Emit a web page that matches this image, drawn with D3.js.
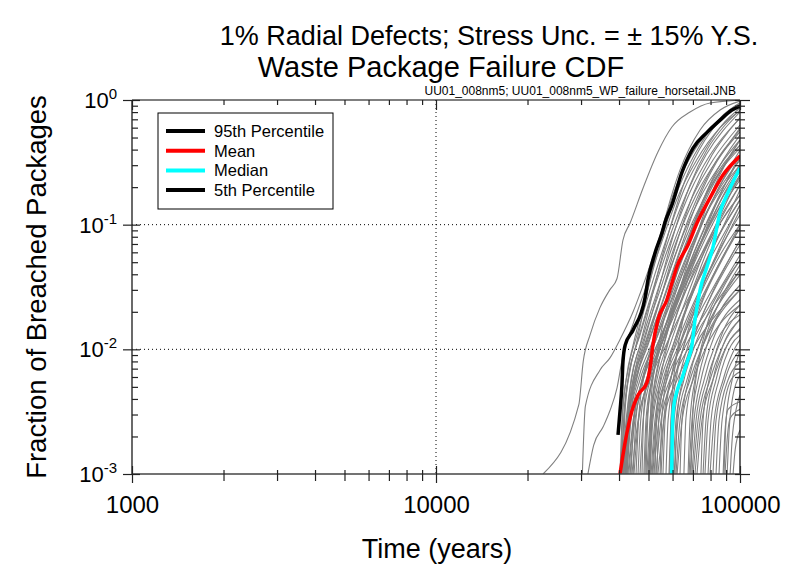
<!DOCTYPE html>
<html>
<head>
<meta charset="UTF-8">
<title>Waste Package Failure CDF</title>
<script src="https://cdn.jsdelivr.net/npm/d3@7"></script>
<style>
  body { margin: 0; background: #fff; }
  svg { font-family: Arial, "Liberation Sans", sans-serif; }
</style>
</head>
<body>
<svg id="chart" width="798" height="567"></svg>
<script>
// time (years) vs fraction of breached packages
const xMajorTicks = [1000, 10000, 100000];
const yMajorTicks = [1e-3, 1e-2, 1e-1, 1];
const yTickExponents = ['-3', '-2', '-1', '0'];
const legendLabels = ['95th Percentile', 'Mean', 'Median', '5th Percentile'];

const pct95 = [[39700,0.00206],[40300,0.0032],[40900,0.0052],[41200,0.0079],[41900,0.0108],[44500,0.0143],[48700,0.0258],[49800,0.036],[52500,0.059],[55400,0.086],[56700,0.105],[59700,0.144],[64500,0.265],[70000,0.41],[77900,0.55],[86000,0.69],[94100,0.83],[100000,0.895]];
const meanCurve = [[40300,0.001],[41900,0.0018],[44100,0.0032],[46200,0.0043],[49400,0.0054],[50600,0.0071],[51700,0.0108],[53700,0.0172],[57500,0.025],[59700,0.034],[62000,0.046],[67500,0.069],[72200,0.103],[79700,0.164],[87900,0.25],[100000,0.355]];
const median = [[59600,0.001],[59800,0.0017],[60300,0.0032],[62000,0.0046],[64500,0.0059],[67000,0.0079],[69500,0.0108],[71100,0.0172],[73900,0.030],[77900,0.046],[81500,0.066],[84600,0.105],[86000,0.126],[90600,0.173],[94800,0.22],[100000,0.285]];
const pct5 = []; // stays below 1e-3 over the whole period

// individual realizations (horsetail)
const realizations = [
  [[22500,.001],[29500,.0036],[30500,.008],[32100,.013],[34600,.0215],[37300,.03],[39400,.037],[41200,.075],[43500,.103],[48000,.197],[53700,.383],[59700,.607],[68500,.8],[79700,.946],[100000,.995]],
  [[30300,.001],[31000,.0035],[34600,.0068],[37300,.0085],[40300,.012],[44500,.02],[48700,.036],[54700,.083],[61000,.19],[71000,.4],[86000,.69],[100000,.91]],
  [[31600,.001],[33000,.0017],[35500,.0024],[37300,.0032],[39400,.0049],[41200,.009],[44500,.016],[48700,.03],[55000,.07],[62000,.16],[72000,.33],[86000,.6],[100000,.82]],
  [[40600,.001],[41500,.0027],[42800,.0057],[45500,.0108],[49800,.030],[55400,.091],[63500,.275],[73900,.575],[86000,.831],[100000,.98]],
  [[40900,.001],[42200,.0027],[43800,.0057],[46900,.0108],[51400,.027],[58000,.083],[66400,.237],[76700,.478],[87300,.717],[100000,.93]],
  [[41200,.001],[42500,.0027],[44500,.0057],[48000,.0108],[53300,.027],[59700,.075],[68500,.208],[78500,.412],[89300,.63],[100000,.83]],
  [[41500,.001],[42800,.0027],[44800,.0057],[49100,.0108],[54600,.025],[61600,.069],[70600,.183],[80900,.362],[91400,.554],[100000,.717]],
  [[41900,.001],[43100,.0027],[45500,.0057],[49800,.0108],[55800,.025],[63500,.063],[72800,.158],[83400,.312],[92800,.46],[100000,.596]],
  [[42200,.001],[43500,.0027],[46200,.0057],[51000,.0108],[57500,.025],[65400,.057],[75000,.136],[86000,.265],[94200,.383],[100000,.478]],
  [[42500,.001],[43800,.0027],[46900,.0057],[52100,.0108],[58800,.0227],[67500,.052],[77300,.12],[88000,.228],[100000,.362]],
  [[42800,.001],[44500,.0027],[48000,.0057],[53300,.0108],[60700,.0227],[69500,.05],[79700,.105],[90000,.19],[100000,.285]],
  [[43500,.001],[45100,.0027],[49100,.0057],[55000,.0108],[63000,.0227],[72800,.0475],[83400,.094],[100000,.208]],
  [[44100,.001],[46200,.0027],[50600,.0057],[57100,.0108],[65900,.0227],[76700,.045],[100000,.144]],
  [[40300,.001],[40900,.0027],[42200,.0057],[44500,.0108],[48700,.025],[54600,.069],[62500,.19],[73900,.435],[86000,.717],[100000,.95]],
  [[41500,.001],[42500,.00225],[44100,.0043],[47200,.0082],[52500,.019],[59700,.0475],[69500,.131],[80900,.285],[100000,.575]],
  [[43100,.001],[44500,.0025],[47200,.0052],[52500,.0099],[60200,.0207],[70100,.0433],[82200,.087],[100000,.173]],
  [[40600,.001],[41200,.0033],[42800,.0068],[45800,.013],[50600,.030],[57100,.075],[65400,.19],[76700,.397],[87300,.63],[100000,.863]],
  [[41200,.001],[41900,.0033],[43500,.0068],[46900,.013],[52100,.030],[59300,.075],[68500,.183],[79700,.362],[100000,.717]],
  [[41900,.001],[42800,.0027],[44800,.0062],[48700,.013],[54600,.030],[62000,.075],[71700,.173],[84100,.33],[100000,.554]],
  [[42500,.001],[43500,.0027],[45800,.0059],[50200,.0119],[56700,.027],[64900,.069],[75600,.158],[87300,.285],[100000,.435]],
  [[43800,.001],[44800,.0027],[47600,.0057],[52500,.0114],[59700,.026],[68500,.063],[79700,.144],[100000,.33]],
  [[44800,.001],[46200,.0025],[49400,.0052],[55000,.0108],[63000,.025],[73300,.06],[86000,.131],[100000,.228]],
  [[45500,.001],[46500,.003],[48700,.0066],[52500,.013],[58800,.030],[67500,.075],[78500,.183],[100000,.412]],
  [[46900,.001],[48000,.0027],[50600,.0057],[55000,.0119],[62000,.027],[71700,.065],[84100,.152],[100000,.30]],
  [[47600,.001],[48300,.0033],[50200,.0071],[53300,.0143],[59300,.0328],[68000,.083],[79700,.208],[100000,.435]],
  [[48700,.001],[49400,.0027],[51700,.0059],[55800,.0119],[62500,.027],[72200,.069],[84700,.164],[100000,.343]],
  [[49400,.001],[50600,.0027],[52500,.0057],[56200,.0108],[62500,.027],[71100,.075],[82800,.208],[100000,.478]],
  [[49800,.001],[51000,.0027],[53300,.0057],[57500,.0108],[64500,.026],[73900,.069],[86000,.173],[100000,.362]],
  [[50200,.001],[51400,.0027],[54100,.0057],[58800,.0108],[66400,.025],[76700,.063],[100000,.25]],
  [[50600,.001],[51700,.0027],[55000,.0057],[60200,.0108],[68500,.025],[79700,.057],[100000,.19]],
  [[51000,.001],[52500,.0027],[55800,.0057],[61600,.0108],[70600,.024],[82200,.05],[100000,.131]],
  [[51400,.001],[52900,.0027],[56700,.0057],[63000,.0108],[72800,.0227],[100000,.10]],
  [[51700,.001],[53300,.0027],[57500,.0057],[64500,.0108],[75000,.0215],[100000,.075]],
  [[52100,.001],[54100,.0027],[58800,.0057],[66400,.0108],[77300,.02],[100000,.057]],
  [[52900,.001],[55000,.0027],[60200,.0057],[68500,.0108],[100000,.043]],
  [[53700,.001],[56200,.0027],[62100,.0057],[71100,.0108],[100000,.03]],
  [[50200,.001],[51000,.0039],[52900,.0082],[56200,.0172],[61100,.036],[69500,.091],[80900,.228],[100000,.524]],
  [[52500,.001],[53300,.0033],[55400,.0068],[59700,.0143],[67500,.0328],[78500,.075],[100000,.208]],
  [[50600,.001],[51400,.0033],[53700,.0071],[58000,.0143],[65400,.0328],[75600,.078],[88600,.173],[100000,.265]],
  [[54600,.001],[55400,.003],[58000,.0066],[62500,.013],[70600,.030],[82200,.069],[100000,.158]],
  [[55800,.001],[56700,.0027],[59300,.0059],[64000,.0119],[72800,.027],[84700,.06],[100000,.12]],
  [[57100,.001],[58000,.0027],[61100,.0059],[66400,.0119],[75600,.026],[87300,.054],[100000,.094]],
  [[58400,.001],[59300,.0027],[61600,.0057],[65400,.0108],[72800,.025],[83400,.057],[100000,.144]],
  [[58800,.001],[60200,.0027],[63000,.0057],[67500,.0108],[75600,.025],[87300,.052],[100000,.094]],
  [[59300,.001],[60700,.0027],[64000,.0057],[69000,.0108],[77900,.0227],[100000,.069]],
  [[60200,.001],[61600,.0027],[65400,.0057],[71100,.0108],[80900,.0227],[100000,.052]],
  [[60700,.001],[62500,.0027],[66900,.0057],[73300,.0108],[100000,.0395]],
  [[61600,.001],[63500,.0027],[68500,.0057],[75600,.0108],[100000,.03]],
  [[62100,.001],[64500,.0027],[70100,.0057],[77900,.0108],[100000,.0227]],
  [[58800,.001],[59700,.0039],[61600,.0082],[64900,.0172],[71700,.036],[82200,.083],[100000,.173]],
  [[67500,.001],[68500,.0027],[71100,.0057],[75600,.0108],[84700,.0227],[100000,.0475]],
  [[68000,.001],[69500,.0027],[72800,.0057],[77900,.0108],[100000,.0328]],
  [[68500,.001],[70600,.0027],[74400,.0057],[80300,.0108],[100000,.025]],
  [[69500,.001],[71700,.0027],[76200,.0057],[82800,.0108],[100000,.0189]],
  [[70100,.001],[72800,.0027],[77900,.0057],[85300,.0108],[100000,.0205]],
  [[71100,.001],[73900,.0027],[79700,.0057],[88000,.0108],[100000,.0176]],
  [[72200,.001],[75000,.0027],[81500,.0057],[90700,.0108],[100000,.0147]],
  [[69000,.001],[70100,.0033],[72800,.0075],[77900,.0157],[87300,.03],[100000,.052]],
  [[74400,.001],[75600,.0027],[79100,.0057],[84700,.0108],[100000,.0227]],
  [[75600,.001],[77300,.0027],[81500,.0057],[88000,.0108],[100000,.0172]],
  [[76700,.001],[78500,.0027],[83400,.0057],[90700,.0108],[100000,.0143]],
  [[78500,.001],[80300,.0027],[85300,.0057],[93500,.0108],[100000,.013]],
  [[79700,.001],[82200,.0027],[88000,.0057],[96400,.0103],[100000,.0119]],
  [[81500,.001],[83400,.0027],[89300,.0057],[100000,.0099]],
  [[83400,.001],[85300,.0027],[91400,.0057],[100000,.0078]],
  [[85300,.001],[87300,.0027],[93500,.0057],[100000,.0066]],
  [[88000,.001],[89300,.00225],[91400,.0033],[100000,.0038]],
  [[89300,.001],[90700,.00187],[92800,.0028],[100000,.0033]],
  [[90700,.001],[92100,.00225],[94900,.0043],[100000,.0062]],
  [[92800,.001],[94200,.00187],[97100,.0033],[100000,.0043]],
  [[94900,.001],[96400,.00156],[100000,.00225]],
  [[88600,.001],[90000,.0027],[93500,.0052],[100000,.0099]],
  [[40900,.001],[41500,.003],[43100,.0062],[46200,.0119],[51000,.027],[57500,.069],[66400,.173],[77300,.362],[100000,.801]],
  [[41500,.001],[42500,.0028],[44100,.0059],[47600,.0119],[52900,.027],[60200,.069],[69500,.164],[81500,.33],[100000,.63]],
  [[42200,.001],[43100,.0028],[45100,.0059],[49100,.0119],[55000,.027],[63000,.069],[73300,.158],[86000,.301],[100000,.478]],
  [[44500,.001],[45500,.0028],[48000,.0059],[52500,.0119],[59300,.027],[68500,.065],[80300,.144],[100000,.301]],
  [[46200,.001],[47200,.0028],[49800,.0059],[54600,.0119],[62000,.027],[72200,.063],[85300,.136],[100000,.237]],
  [[48300,.001],[49100,.0028],[51400,.0059],[55800,.0119],[63000,.027],[73300,.065],[86600,.144],[100000,.25]],
  [[49100,.001],[49800,.003],[51700,.0062],[55400,.0122],[61600,.029],[70600,.071],[82800,.173],[100000,.397]],
  [[53300,.001],[54100,.0028],[56700,.0059],[61100,.0119],[69000,.027],[80300,.063],[100000,.158]],
  [[55000,.001],[56200,.0028],[59300,.0059],[64500,.0119],[73300,.026],[86000,.057],[100000,.10]],
  [[61100,.001],[62100,.0028],[64900,.0059],[70100,.0119],[79700,.026],[100000,.075]],
  [[63500,.001],[64500,.0028],[68000,.0059],[73900,.0114],[84700,.0227],[100000,.043]],
  [[65400,.001],[66400,.0028],[70100,.0059],[76200,.0114],[87300,.0215],[100000,.0328]]
];

const svg = d3.select('#chart');
const plotLeft = 132, plotRight = 740, plotTop = 100, plotBottom = 474;

const x = d3.scaleLog().domain([1000, 100000]).range([plotLeft, plotRight]);
const y = d3.scaleLog().domain([1e-3, 1]).range([plotBottom, plotTop]);

svg.append('rect').attr('width', 798).attr('height', 567).attr('fill', '#fff');

svg.append('clipPath').attr('id', 'plotClip')
  .append('rect')
    .attr('x', plotLeft).attr('y', plotTop)
    .attr('width', plotRight - plotLeft).attr('height', plotBottom - plotTop);

// dotted grid at the inner decades
const grid = svg.append('g')
  .attr('stroke', '#000').attr('stroke-width', 1).attr('stroke-dasharray', '1,3');
grid.selectAll('line.v').data([10000]).join('line')
  .attr('x1', d => x(d)).attr('x2', d => x(d)).attr('y1', plotTop).attr('y2', plotBottom);
grid.selectAll('line.h').data([1e-2, 1e-1]).join('line')
  .attr('x1', plotLeft).attr('x2', plotRight).attr('y1', d => y(d)).attr('y2', d => y(d));

// curves
const line = d3.line()
  .x(d => x(d[0]))
  .y(d => y(d[1]))
  .curve(d3.curveMonotoneX);

const plot = svg.append('g').attr('clip-path', 'url(#plotClip)');

plot.selectAll('path.real').data(realizations).join('path')
  .attr('class', 'real')
  .attr('d', line)
  .attr('fill', 'none')
  .attr('stroke', '#808080')
  .attr('stroke-width', 1.1);

const stats = [
  {data: pct95, color: '#000000'},
  {data: meanCurve, color: '#ff0000'},
  {data: median, color: '#00ffff'},
  {data: pct5, color: '#000000'}
];

plot.selectAll('path.stat').data(stats.filter(s => s.data.length > 1)).join('path')
  .attr('class', 'stat')
  .attr('d', s => line(s.data))
  .attr('fill', 'none')
  .attr('stroke', s => s.color)
  .attr('stroke-width', 3.5)
  .attr('stroke-linejoin', 'round');

// frame
const frame = svg.append('g');
frame.append('line').attr('x1', plotLeft).attr('x2', plotRight).attr('y1', plotTop).attr('y2', plotTop).attr('stroke', '#000').attr('stroke-width', 1.2);
frame.append('line').attr('x1', plotRight).attr('x2', plotRight).attr('y1', plotTop).attr('y2', plotBottom).attr('stroke', '#000').attr('stroke-width', 1.2);
frame.append('line').attr('x1', plotLeft).attr('x2', plotRight).attr('y1', plotBottom).attr('y2', plotBottom).attr('stroke', '#444').attr('stroke-width', 1.6);
frame.append('line').attr('x1', plotLeft).attr('x2', plotLeft).attr('y1', plotTop).attr('y2', plotBottom).attr('stroke', '#444').attr('stroke-width', 1.6);

// ticks
const xMinor = d3.range(2, 10).flatMap(m => [m * 1000, m * 10000]);
const yMinor = d3.range(2, 10).flatMap(m => [m * 1e-3, m * 1e-2, m * 1e-1]);
const noLabel = () => '';

function styleTicks(g)
{
  g.select('.domain').remove();
  g.selectAll('.tick line').attr('stroke', '#222').attr('stroke-width', 1.2);
}

svg.append('g').attr('transform', `translate(0,${plotBottom})`)
  .call(d3.axisBottom(x).tickValues(xMinor).tickSize(7).tickFormat(noLabel))
  .call(styleTicks)
  .call(g => g.selectAll('.tick line').attr('y1', -4));

svg.append('g').attr('transform', `translate(0,${plotBottom})`)
  .call(d3.axisBottom(x).tickValues(xMajorTicks).tickSize(9).tickPadding(13).tickFormat(d3.format('d')))
  .call(styleTicks)
  .call(g => g.selectAll('.tick line').attr('y1', -8))
  .call(g => g.selectAll('.tick text')
    .attr('font-size', 24)
    .attr('font-family', 'Arial, "Liberation Sans", sans-serif')
    .attr('fill', '#000'));

svg.append('g').attr('transform', `translate(0,${plotTop})`)
  .call(d3.axisTop(x).tickValues(xMinor).tickSize(-5).tickFormat(noLabel))
  .call(styleTicks);

svg.append('g').attr('transform', `translate(0,${plotTop})`)
  .call(d3.axisTop(x).tickValues(xMajorTicks).tickSize(-10).tickFormat(noLabel))
  .call(styleTicks);

svg.append('g').attr('transform', `translate(${plotLeft},0)`)
  .call(d3.axisLeft(y).tickValues(yMinor).tickSize(-6).tickFormat(noLabel))
  .call(styleTicks);

svg.append('g').attr('transform', `translate(${plotLeft},0)`)
  .call(d3.axisLeft(y).tickValues(yMajorTicks).tickSize(9).tickFormat(noLabel))
  .call(styleTicks)
  .call(g => g.selectAll('.tick line').attr('x1', 8));

svg.append('g').attr('transform', `translate(${plotRight},0)`)
  .call(d3.axisRight(y).tickValues(yMinor).tickSize(5).tickFormat(noLabel))
  .call(styleTicks)
  .call(g => g.selectAll('.tick line').attr('x1', -5));

svg.append('g').attr('transform', `translate(${plotRight},0)`)
  .call(d3.axisRight(y).tickValues(yMajorTicks).tickSize(10).tickFormat(noLabel))
  .call(styleTicks)
  .call(g => g.selectAll('.tick line').attr('x1', -5));

// y tick labels: 10 with superscript exponent
svg.append('g').selectAll('text').data(yMajorTicks).join('text')
  .attr('x', 117)
  .attr('y', d => y(d) + 8)
  .attr('text-anchor', 'end')
  .attr('font-size', 22)
  .each(function(d, i)
  {
    const t = d3.select(this);
    t.append('tspan').text('10');
    t.append('tspan').attr('dy', -9).attr('font-size', 15).text(yTickExponents[i]);
  });

// axis titles
svg.append('text')
  .attr('x', 437).attr('y', 558)
  .attr('text-anchor', 'middle')
  .attr('font-size', 27)
  .text('Time (years)');

svg.append('text')
  .attr('transform', 'translate(46,287) rotate(-90)')
  .attr('text-anchor', 'middle')
  .attr('font-size', 27.5)
  .text('Fraction of Breached Packages');

// titles
svg.append('text')
  .attr('x', 489).attr('y', 44.5)
  .attr('text-anchor', 'middle')
  .attr('font-size', 27)
  .text('1% Radial Defects; Stress Unc. = \u00b1 15% Y.S.');

svg.append('text')
  .attr('x', 441).attr('y', 77)
  .attr('text-anchor', 'middle')
  .attr('font-size', 29)
  .text('Waste Package Failure CDF');

svg.append('text')
  .attr('x', 736).attr('y', 94.5)
  .attr('text-anchor', 'end')
  .attr('font-size', 12)
  .text('UU01_008nm5; UU01_008nm5_WP_failure_horsetail.JNB');

// legend
const legend = svg.append('g');
legend.append('rect')
  .attr('x', 158).attr('y', 113).attr('width', 175).attr('height', 96)
  .attr('fill', '#fff').attr('stroke', '#000').attr('stroke-width', 1);

const entries = legend.selectAll('g.entry').data(stats).join('g')
  .attr('class', 'entry')
  .attr('transform', (d, i) => `translate(0,${131 + i * 19.7})`);

entries.append('line')
  .attr('x1', 166).attr('x2', 205)
  .attr('stroke', d => d.color).attr('stroke-width', 4);

entries.append('text')
  .attr('x', 214).attr('y', 6)
  .attr('font-size', 16.5)
  .text((d, i) => legendLabels[i]);
</script>
</body>
</html>
